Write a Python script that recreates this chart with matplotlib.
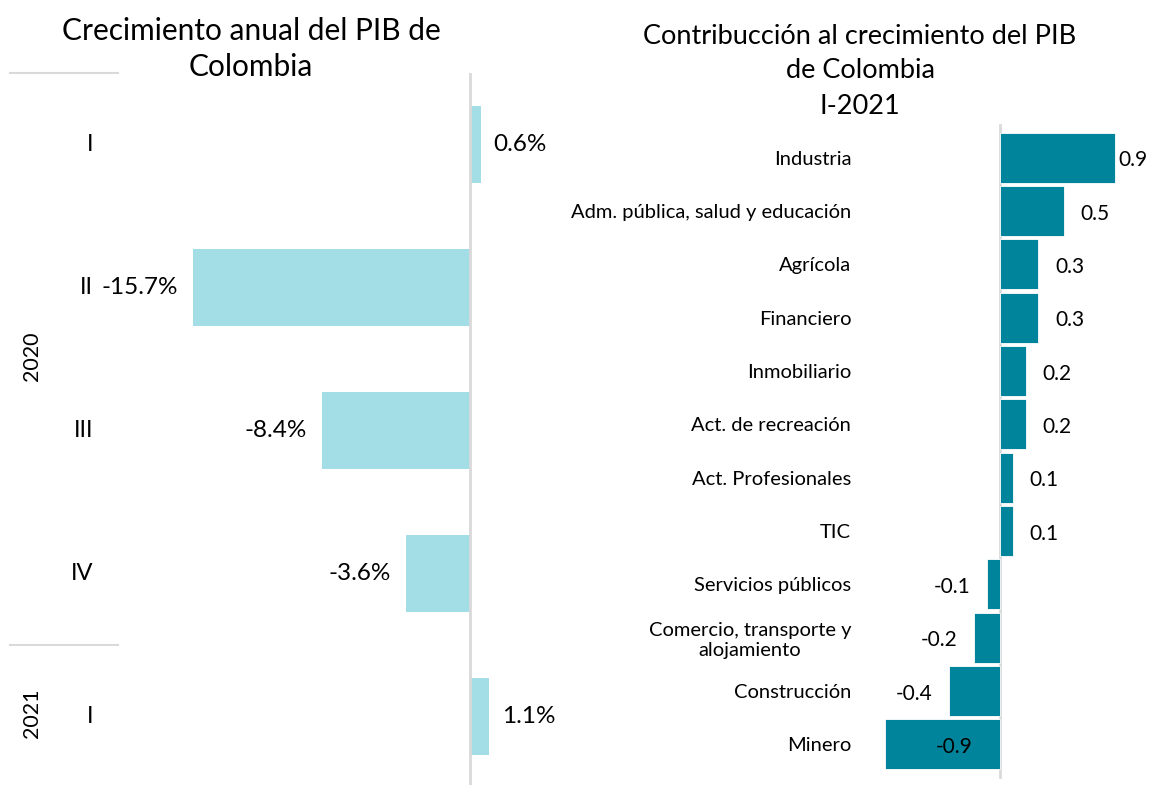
import matplotlib
matplotlib.use("Agg")
import matplotlib.pyplot as plt
import matplotlib.transforms as mtransforms

plt.rcParams['font.family'] = ['Lato', 'DejaVu Sans']

# ---- data ----
quarters = ["I", "II", "III", "IV", "I"]
years = ["2020", "2021"]
year_groups = [(0, 3), (4, 4)]
growth = [0.6, -15.7, -8.4, -3.6, 1.1]

sectors = ["Industria", "Adm. pública, salud y educación", "Agrícola", "Financiero",
           "Inmobiliario", "Act. de recreación", "Act. Profesionales", "TIC",
           "Servicios públicos", "Comercio, transporte y\nalojamiento", "Construcción", "Minero"]
contrib = [0.9, 0.5, 0.3, 0.3, 0.2, 0.2, 0.1, 0.1, -0.1, -0.2, -0.4, -0.9]

title_left = "Crecimiento anual del PIB de\nColombia"
title_right = "Contribucción al crecimiento del PIB\nde Colombia\nI-2021"

LIGHT = "#A3DDE6"
TEAL = "#00849B"
GRID = "#D9D9D9"

W, H = 1149, 785
fig = plt.figure(figsize=(W / 100, H / 100), dpi=100)

def px_axes(x0, y0, x1, y1):
    return fig.add_axes([x0 / W, 1 - y1 / H, (x1 - x0) / W, (y1 - y0) / H])

# ---- left chart ----
axL = px_axes(130, 73, 560, 785)
pxu = 17.65
axL.set_xlim(-(470 - 130) / pxu, (560 - 470) / pxu)
axL.set_ylim(4.48, -0.5)
ypos = list(range(len(growth)))
axL.barh(ypos, growth, height=0.54, color=LIGHT, zorder=2)
axL.axvline(0, color=GRID, lw=2, zorder=3)
for sp in axL.spines.values():
    sp.set_visible(False)
axL.set_xticks([])
axL.set_yticks([])
for y, v in zip(ypos, growth):
    lab = f"{v:.1f}%"
    if v >= 0:
        axL.annotate(lab, (v, y), xytext=(9, 0), textcoords="offset points",
                     ha="left", va="center", fontsize=17.5)
    else:
        axL.annotate(lab, (v, y), xytext=(-11, 0), textcoords="offset points",
                     ha="right", va="center", fontsize=17.5)
blendL = mtransforms.blended_transform_factory(fig.transFigure, axL.transData)
for y, q in zip(ypos, quarters):
    axL.text(93 / W, y, q, transform=blendL, ha="right", va="center", fontsize=17)
for yr, (a, b) in zip(years, year_groups):
    axL.text(32 / W, (a + b) / 2 - 0.02, yr, transform=blendL, ha="center", va="center",
             rotation=90, fontsize=15.5)
for a, b in year_groups:
    axL.plot([10 / W, 118 / W], [a - 0.5, a - 0.5], transform=blendL, color=GRID,
             lw=1.5, clip_on=False)
fig.text(251 / W, 1 - 49 / H, title_left, ha="center", va="center", fontsize=21.5,
         linespacing=1.38)

# ---- right chart ----
axR = px_axes(870, 131, 1149, 771)
pxr = 128.0
axR.set_xlim(-(1000 - 870) / pxr, (1149 - 1000) / pxr)
axR.set_ylim(11.5, -0.5)
yr_pos = list(range(len(contrib)))
axR.barh(yr_pos, contrib, height=0.94, color=TEAL, edgecolor="white", lw=0.6, zorder=2)
axR.axvline(0, color=GRID, lw=2, ymin=-0.01, ymax=1.01, zorder=1, clip_on=False)
for sp in axR.spines.values():
    sp.set_visible(False)
axR.set_xticks([])
axR.set_yticks(yr_pos)
axR.set_yticklabels(sectors, fontsize=14.5, multialignment="center")
axR.tick_params(axis="y", length=0, pad=13.5)
for y, v in zip(yr_pos, contrib):
    lab = f"{v:.1f}"
    if v >= 0.85:
        axR.annotate(lab, (v, y), xytext=(2, -2), textcoords="offset points",
                     ha="left", va="center", fontsize=15)
    elif v <= -0.85:
        axR.annotate(lab, (0, y), xytext=(-20, -2), textcoords="offset points",
                     ha="right", va="center", fontsize=15)
    elif v >= 0:
        axR.annotate(lab, (v, y), xytext=(12, -2), textcoords="offset points",
                     ha="left", va="center", fontsize=15)
    else:
        axR.annotate(lab, (v, y), xytext=(-12, -2), textcoords="offset points",
                     ha="right", va="center", fontsize=15)
fig.text(860 / W, 1 - 71 / H, title_right, ha="center", va="center", fontsize=19.5,
         linespacing=1.5)

fig.savefig("out.png", dpi=100)
